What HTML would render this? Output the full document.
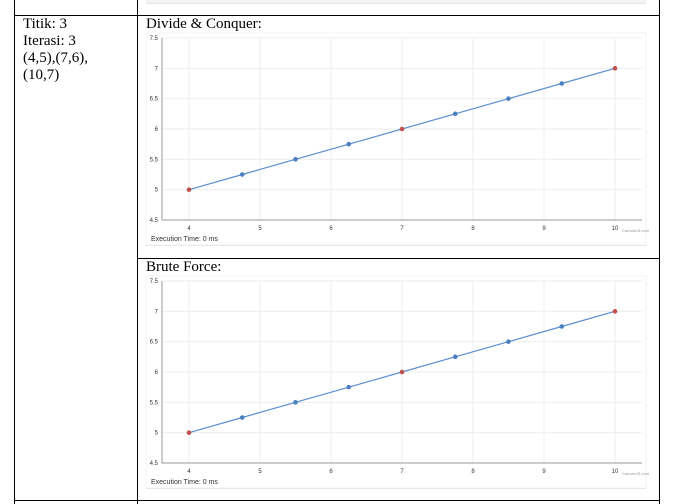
<!DOCTYPE html>
<html><head><meta charset="utf-8"><style>
body{margin:0;width:675px;height:504px;background:#fff;overflow:hidden;position:relative;font-family:"Liberation Serif",serif}
.ln{position:absolute;background:#000}
.t{position:absolute;font-size:15px;line-height:17px;color:#000}
</style></head><body>
<div style="position:absolute;left:146px;top:0;width:500px;height:3px;background:#f4f4f4;border-bottom:1px solid #e6e6e6"></div>
<div class="ln" style="left:14px;top:15px;width:646px;height:1px"></div>
<div class="ln" style="left:137px;top:258px;width:523px;height:1px"></div>
<div class="ln" style="left:14px;top:500px;width:646px;height:1px"></div>
<div class="ln" style="left:14px;top:0;width:1px;height:504px"></div>
<div class="ln" style="left:137px;top:0;width:1px;height:504px"></div>
<div class="ln" style="left:659px;top:0;width:1px;height:504px"></div>
<div class="t" style="left:23px;top:16px">Titik: 3<br>Iterasi: 3<br>(4,5),(7,6),<br>(10,7)</div>
<div class="t" style="left:146px;top:16px">Divide &amp; Conquer:</div>
<div class="t" style="left:146px;top:259px">Brute Force:</div>
<svg id="svg" width="675" height="504" style="position:absolute;left:0;top:0"></svg>
<script>
const xVals=[4,4.75,5.5,6.25,7,7.75,8.5,9.25,10];
const yVals=[5,5.25,5.5,5.75,6,6.25,6.5,6.75,7];
const redPts=[true,false,false,false,true,false,false,false,true];
const xTicks=[4,5,6,7,8,9,10];
const yTicks=[4.5,5,5.5,6,6.5,7,7.5];
const NS="http://www.w3.org/2000/svg";
const svg=document.getElementById('svg');
function mk(t,a,p){const e=document.createElementNS(NS,t);for(const k in a)e.setAttribute(k,a[k]);(p||svg).appendChild(e);return e;}
function chart(off,name){
  const g=mk('g',{});
  
  
  mk('rect',{x:146,y:33+off,width:500,height:212,fill:'#fff',stroke:'#f3f3f3'},g);
  mk('line',{x1:146,x2:646,y1:245.5+off,y2:245.5+off,stroke:'#e8e8e8'},g);
  const X=v=>189+(v-4)*71, Y=v=>220+off-(v-4.5)*60.67;
  yTicks.forEach(v=>{
    if(v>4.5)mk('line',{x1:162,x2:642,y1:Y(v),y2:Y(v),stroke:'#eee'},g);
    const t=mk('text',{x:158,y:Y(v)+2,'font-size':6,'text-anchor':'end',fill:'#333','font-family':'Liberation Sans,sans-serif'},g);
    t.textContent=v;
    
    
  });
  xTicks.forEach(v=>{
    mk('line',{x1:X(v),x2:X(v),y1:Y(7.5),y2:Y(4.5),stroke:'#eee'},g);
    const t=mk('text',{x:X(v),y:Y(4.5)+10,'font-size':6,'text-anchor':'middle',fill:'#333','font-family':'Liberation Sans,sans-serif'},g);
    t.textContent=v;
    
    
  });
  mk('line',{x1:162,x2:162,y1:Y(7.5),y2:Y(4.5),stroke:'#999'},g);
  mk('line',{x1:162,x2:642,y1:Y(4.5),y2:Y(4.5),stroke:'#999'},g);
  const p=mk('polyline',{points:xVals.map((x,i)=>X(x)+','+Y(yVals[i])).join(' '),fill:'none',stroke:'#5b8fd0','stroke-width':1.2},g);
  
  
  xVals.forEach((x,i)=>{
    const c=mk('circle',{cx:X(x),cy:Y(yVals[i]),r:2.3,fill:redPts[i]?'#c0504d':'#4a7fc1'},g);
    
    
  });
  const w=mk('text',{x:622,y:Y(4.5)+12,'font-size':4,fill:'#999','font-family':'Liberation Sans,sans-serif'},g);w.textContent='CanvasJS.com';
  const e=mk('text',{x:151,y:Y(4.5)+21,'font-size':7,fill:'#333','font-family':'Liberation Sans,sans-serif'},g);
  e.textContent='Execution Time: 0 ms';
  
  
}
chart(0,'divide-conquer-chart');
chart(243,'brute-force-chart');
</script>
</body></html>
